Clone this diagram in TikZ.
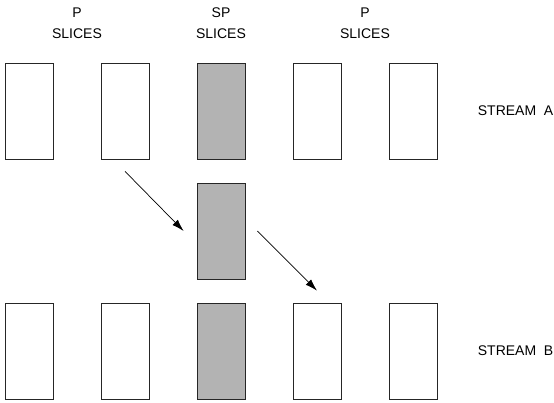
\documentclass[tikz,border=0pt]{standalone}
\usepackage{fontspec}
\setmainfont{Liberation Sans}
\usepackage{tikz}
\usetikzlibrary{arrows.meta}
\definecolor{slicegray}{RGB}{179,179,179}

\begin{document}
\begin{tikzpicture}[
    node distance=96pt,
    slice/.style={rectangle, draw=black!85, line width=0.7pt,
        minimum width=48pt, minimum height=96pt, inner sep=0pt},
    spslice/.style={slice, fill=slicegray},
    caption/.style={align=center, font=\fontsize{14}{21}\selectfont},
    streamlabel/.style={anchor=west, font=\fontsize{14}{16}\selectfont},
    arrow/.style={-{Latex[length=12pt,width=7.5pt]}, line width=0.7pt}
]
    \useasboundingbox (0,0) rectangle (554pt,-402pt);

    % stream A
    \node[slice] (a1) at (29pt,-111pt) {};
    \node[slice, right of=a1] (a2) {};
    \node[spslice, right of=a2] (a3) {};
    \node[slice, right of=a3] (a4) {};
    \node[slice, right of=a4] (a5) {};
    \node[streamlabel] (sa) at ([xshift=37pt]a5.east) {STREAM\ \ A};

    % switching slice
    \node[spslice, below of=a3, yshift=-24pt] (m) {};

    % stream B
    \node[slice] (b1) at (29pt,-351pt) {};
    \node[slice, right of=b1] (b2) {};
    \node[spslice, right of=b2] (b3) {};
    \node[slice, right of=b3] (b4) {};
    \node[slice, right of=b4] (b5) {};
    \node[streamlabel] (sb) at ([xshift=37pt]b5.east) {STREAM\ \ B};

    % headings
    \node[caption] (h1) at (77pt,-23pt) {P\\SLICES};
    \node[caption] (h2) at (221pt,-23pt) {SP\\SLICES};
    \node[caption] (h3) at (365pt,-23pt) {P\\SLICES};

    \draw[arrow] ([yshift=-12pt]a2.south) -- ([xshift=-13pt]m.west);
    \draw[arrow] ([xshift=12pt]m.east) -- ([yshift=12pt]b4.north);
\end{tikzpicture}
\end{document}
